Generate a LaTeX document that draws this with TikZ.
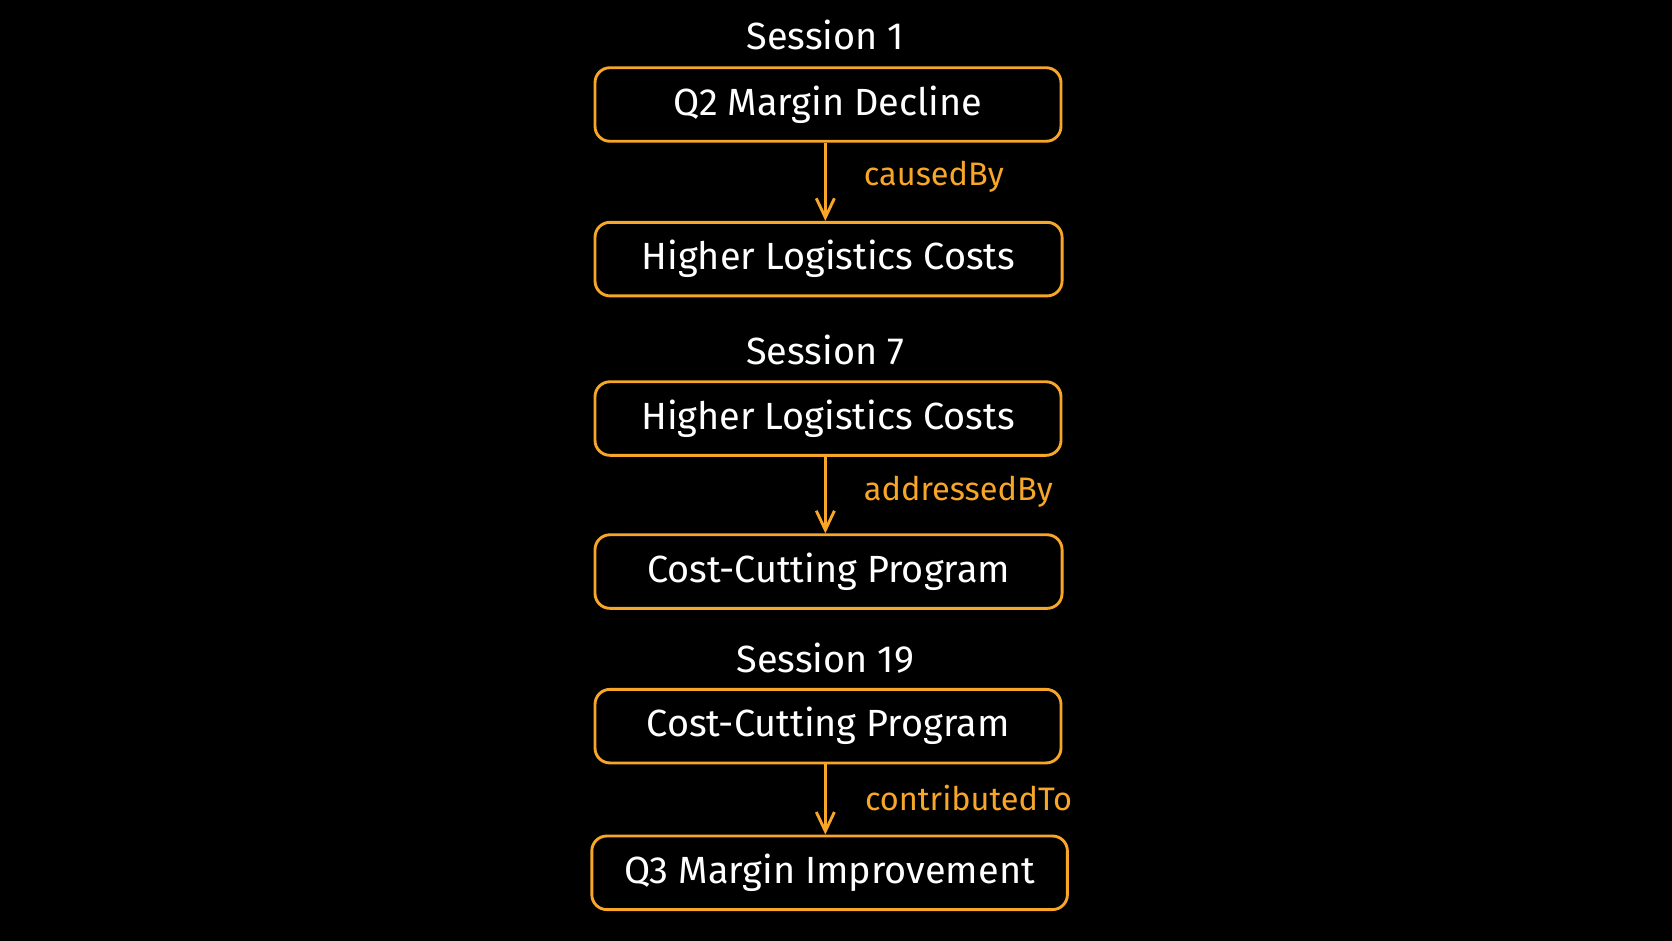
\documentclass[tikz,border=0pt]{standalone}
\usepackage{fontspec}
\setmainfont{Fira Sans}
\usetikzlibrary{arrows.meta}
\definecolor{orng}{RGB}{247,166,40}
\begin{document}
\begin{tikzpicture}[x=1pt,y=-1pt,
  box/.style={draw=orng, line width=2.7pt, rounded corners=14pt, minimum height=69pt, text=white, font=\fontsize{35.5}{40}\selectfont, inner sep=0pt},
  sess/.style={text=white, font=\fontsize{35.5}{40}\selectfont, inner sep=0pt},
  elabel/.style={text=orng, font=\fontsize{30.5}{34}\selectfont, inner sep=0pt, anchor=west},
  conn/.style={draw=orng, line width=2.7pt, -{Straight Barb[length=18pt,width=17pt,line width=2.7pt]}}]
\fill[black] (0,0) rectangle (1568,882);
\useasboundingbox (0,0) rectangle (1568,882);
\node[sess] (s1) at (774,33) {Session 1};
\node[box, minimum width=437pt] (b1) at (776.5,98) {Q2 Margin Decline};
\node[box, minimum width=438pt] (b2) at (777,243) {Higher Logistics Costs};
\node[sess] (s7) at (774,328) {Session 7};
\node[box, minimum width=437pt] (b3) at (776.5,392.5) {Higher Logistics Costs};
\node[box, minimum width=438pt] (b4) at (777,536) {Cost-Cutting Program};
\node[sess] (s19) at (774,617) {Session 19};
\node[box, minimum width=437pt] (b5) at (776.5,681) {Cost-Cutting Program};
\node[box, minimum width=446pt] (b6) at (778,818.5) {Q3 Margin Improvement};
\draw[conn] (b1.south -| 774,0) -- (b2.north -| 774,0);
\draw[conn] (b3.south -| 774,0) -- (b4.north -| 774,0);
\draw[conn] (b5.south -| 774,0) -- (b6.north -| 774,0);
\node[elabel] (l1) at (810,166) {causedBy};
\node[elabel] (l2) at (810,461) {addressedBy};
\node[elabel] (l3) at (811,748) {contributedTo};
\end{tikzpicture}
\end{document}
